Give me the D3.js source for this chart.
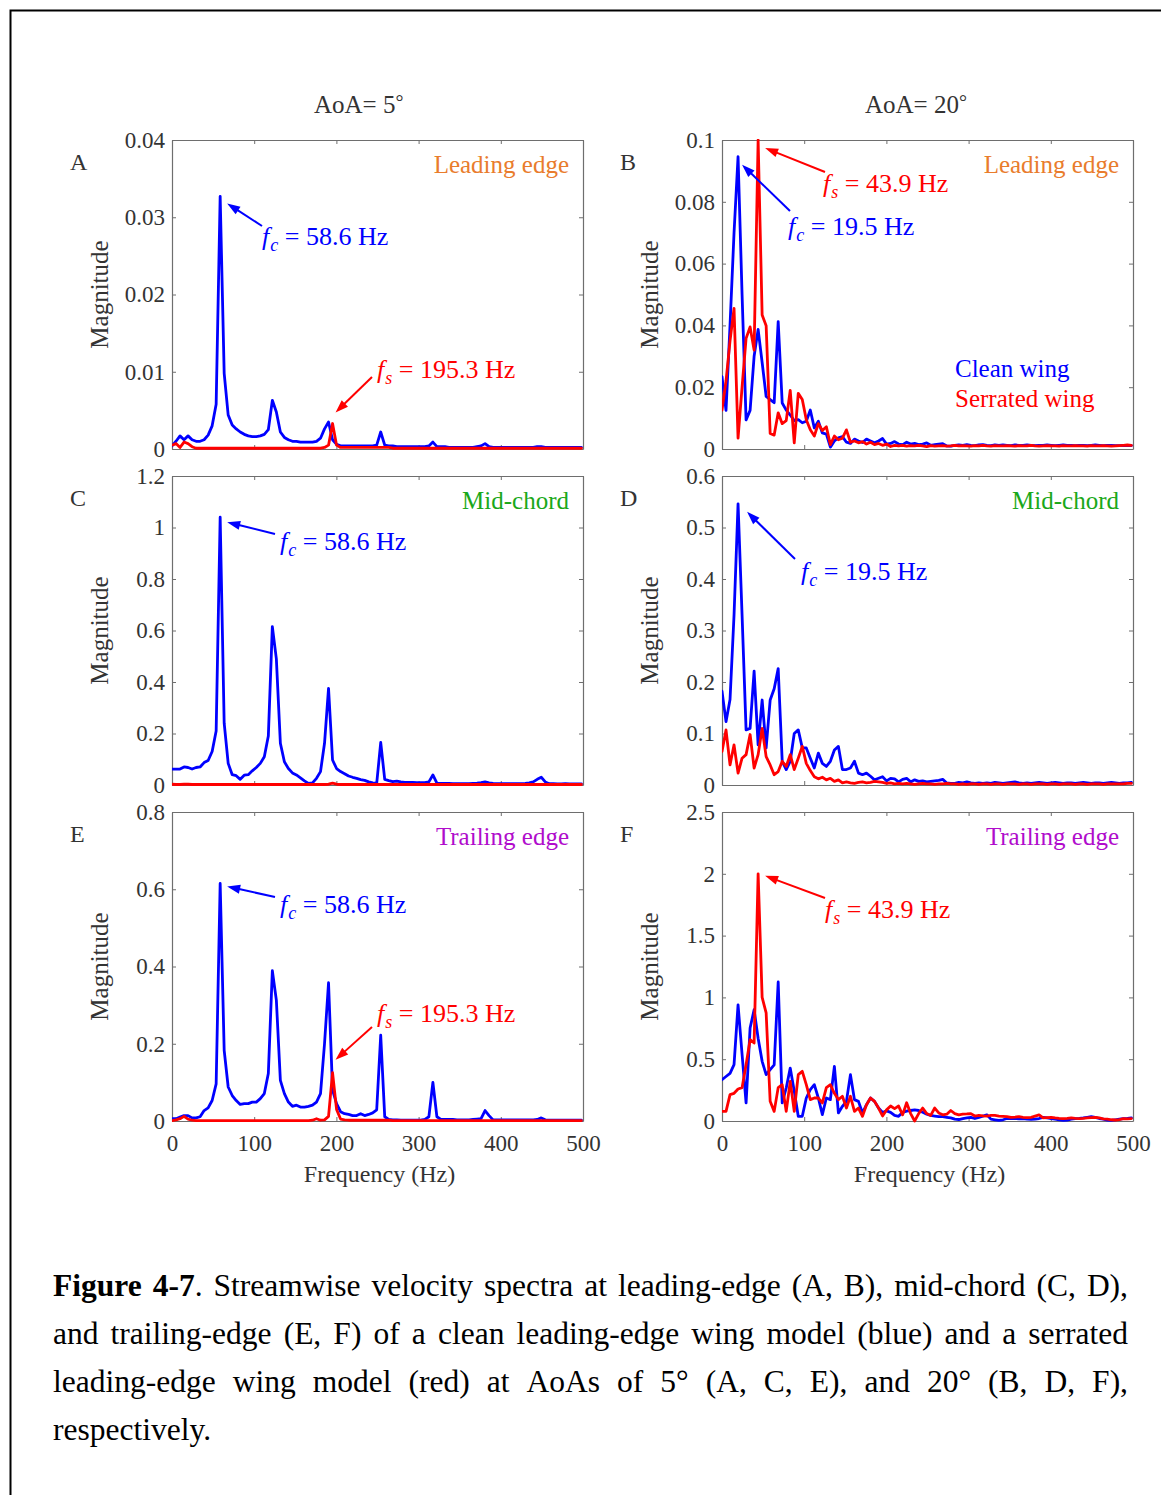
<!DOCTYPE html>
<html>
<head>
<meta charset="utf-8">
<script src="https://cdn.jsdelivr.net/npm/d3@7"></script>
<style>
  html, body { margin: 0; padding: 0; background: #fff; }
  svg { display: block; }
</style>
</head>
<body>
<svg id="fig" width="1161" height="1495"></svg>
<script>
// ---------------------------------------------------------------------------
// Spectrum bins: 1250 Hz sampling, 256-point FFT -> 4.883 Hz bin spacing,
// bins 0..102 cover 0-500 Hz.
// ---------------------------------------------------------------------------
const SAMPLE_RATE = 1250;
const N_FFT = 256;
const N_BINS = 103;
const freqs = d3.range(N_BINS).map(k => k * SAMPLE_RATE / N_FFT);

// Axis ticks
const xTicks = [0, 100, 200, 300, 400, 500];
const yTicksA = [0, 0.01, 0.02, 0.03, 0.04];
const yTicksB = [0, 0.02, 0.04, 0.06, 0.08, 0.1];
const yTicksC = [0, 0.2, 0.4, 0.6, 0.8, 1, 1.2];
const yTicksD = [0, 0.1, 0.2, 0.3, 0.4, 0.5, 0.6];
const yTicksE = [0, 0.2, 0.4, 0.6, 0.8];
const yTicksF = [0, 0.5, 1, 1.5, 2, 2.5];

// ---- AoA = 5 deg, leading edge (A) ----
const aoa5LeadingClean = [
  0.0004, 0.0010, 0.0017, 0.0012, 0.0017, 0.0012, 0.0010, 0.0010, 0.0012, 0.0018,
  0.0030, 0.0058, 0.0327, 0.0098, 0.0044, 0.0031, 0.0026, 0.0022, 0.0019, 0.0017,
  0.0016, 0.0016, 0.0017, 0.0019, 0.0025, 0.0063, 0.0048, 0.0022, 0.0015, 0.0012,
  0.0010, 0.0010, 0.0009, 0.0009, 0.0009, 0.0009, 0.0010, 0.0014, 0.0026, 0.0035,
  0.0012, 0.0006, 0.0004, 0.0004, 0.0004, 0.0004, 0.0004, 0.0004, 0.0004, 0.0004,
  0.0004, 0.0005, 0.0022, 0.0005, 0.0004, 0.0004, 0.0003, 0.0003, 0.0003, 0.0003,
  0.0003, 0.0003, 0.0003, 0.0003, 0.0004, 0.0009, 0.0003, 0.0003, 0.0003, 0.0002,
  0.0002, 0.0002, 0.0002, 0.0002, 0.0002, 0.0002, 0.0003, 0.0004, 0.0007, 0.0003,
  0.0002, 0.0002, 0.0002, 0.0002, 0.0002, 0.0002, 0.0002, 0.0002, 0.0002, 0.0002,
  0.0002, 0.0003, 0.0003, 0.0002, 0.0002, 0.0002, 0.0002, 0.0002, 0.0002, 0.0002,
  0.0002, 0.0002, 0.0002
];
const aoa5LeadingSerrated = [
  0.0005, 0.0007, 0.0002, 0.0009, 0.0007, 0.0003, 0.0001, 0.0001, 0.0001, 0.0001,
  0.0001, 0.0001, 0.0001, 0.0001, 0.0001, 0.0001, 0.0001, 0.0001, 0.0001, 0.0001,
  0.0001, 0.0001, 0.0001, 0.0001, 0.0001, 0.0001, 0.0001, 0.0001, 0.0001, 0.0001,
  0.0001, 0.0001, 0.0001, 0.0001, 0.0001, 0.0001, 0.0001, 0.0001, 0.0002, 0.0005,
  0.0033, 0.0005, 0.0002, 0.0002, 0.0002, 0.0002, 0.0002, 0.0002, 0.0002, 0.0002,
  0.0002, 0.0002, 0.0002, 0.0002, 0.0002, 0.0001, 0.0001, 0.0001, 0.0001, 0.0001,
  0.0001, 0.0001, 0.0001, 0.0001, 0.0001, 0.0001, 0.0001, 0.0001, 0.0001, 0.0001,
  0.0001, 0.0001, 0.0001, 0.0001, 0.0001, 0.0001, 0.0001, 0.0001, 0.0001, 0.0001,
  0.0001, 0.0001, 0.0001, 0.0001, 0.0001, 0.0001, 0.0001, 0.0001, 0.0001, 0.0001,
  0.0001, 0.0001, 0.0001, 0.0001, 0.0001, 0.0001, 0.0001, 0.0001, 0.0001, 0.0001,
  0.0001, 0.0001, 0.0001
];

// ---- AoA = 20 deg, leading edge (B) ----
const aoa20LeadingClean = [
  0.0234, 0.0125, 0.0400, 0.0700, 0.0946, 0.0500, 0.0094, 0.0125, 0.0300, 0.0387,
  0.0280, 0.0170, 0.0160, 0.0150, 0.0412, 0.0149, 0.0126, 0.0110, 0.0092, 0.0095,
  0.0085, 0.0090, 0.0126, 0.0068, 0.0090, 0.0052, 0.0048, 0.0006, 0.0026, 0.0036,
  0.0040, 0.0022, 0.0018, 0.0032, 0.0026, 0.0021, 0.0032, 0.0026, 0.0020, 0.0026,
  0.0034, 0.0016, 0.0018, 0.0024, 0.0016, 0.0014, 0.0022, 0.0016, 0.0018, 0.0014,
  0.0016, 0.0020, 0.0012, 0.0014, 0.0016, 0.0017, 0.0010, 0.0009, 0.0012, 0.0013,
  0.0012, 0.0014, 0.0012, 0.0011, 0.0013, 0.0014, 0.0012, 0.0011, 0.0013, 0.0012,
  0.0013, 0.0012, 0.0011, 0.0013, 0.0012, 0.0012, 0.0013, 0.0012, 0.0011, 0.0012,
  0.0012, 0.0013, 0.0012, 0.0011, 0.0012, 0.0013, 0.0012, 0.0012, 0.0011, 0.0012,
  0.0012, 0.0011, 0.0012, 0.0013, 0.0012, 0.0011, 0.0012, 0.0012, 0.0011, 0.0011,
  0.0012, 0.0011, 0.0011
];
const aoa20LeadingSerrated = [
  0.0126, 0.0220, 0.0350, 0.0455, 0.0035, 0.0200, 0.0358, 0.0395, 0.0320, 0.1000,
  0.0434, 0.0399, 0.0050, 0.0045, 0.0117, 0.0082, 0.0092, 0.0190, 0.0020, 0.0180,
  0.0160, 0.0095, 0.0062, 0.0042, 0.0082, 0.0060, 0.0072, 0.0014, 0.0042, 0.0030,
  0.0035, 0.0062, 0.0022, 0.0026, 0.0020, 0.0024, 0.0016, 0.0022, 0.0014, 0.0018,
  0.0012, 0.0016, 0.0008, 0.0012, 0.0010, 0.0012, 0.0009, 0.0011, 0.0010, 0.0012,
  0.0010, 0.0008, 0.0011, 0.0009, 0.0010, 0.0011, 0.0009, 0.0010, 0.0012, 0.0010,
  0.0011, 0.0010, 0.0009, 0.0011, 0.0010, 0.0012, 0.0010, 0.0009, 0.0011, 0.0010,
  0.0010, 0.0011, 0.0010, 0.0009, 0.0011, 0.0010, 0.0010, 0.0012, 0.0010, 0.0009,
  0.0010, 0.0011, 0.0010, 0.0010, 0.0009, 0.0011, 0.0010, 0.0010, 0.0011, 0.0010,
  0.0010, 0.0009, 0.0011, 0.0010, 0.0010, 0.0011, 0.0010, 0.0009, 0.0010, 0.0011,
  0.0012, 0.0013, 0.0012
];

// ---- AoA = 5 deg, mid-chord (C) ----
const aoa5MidClean = [
  0.062, 0.062, 0.062, 0.070, 0.068, 0.062, 0.068, 0.070, 0.087, 0.095,
  0.130, 0.210, 1.040, 0.240, 0.084, 0.040, 0.036, 0.022, 0.038, 0.040,
  0.055, 0.068, 0.084, 0.110, 0.190, 0.615, 0.490, 0.162, 0.090, 0.064,
  0.047, 0.039, 0.028, 0.016, 0.006, 0.008, 0.026, 0.052, 0.162, 0.375,
  0.097, 0.064, 0.052, 0.044, 0.035, 0.030, 0.026, 0.021, 0.018, 0.012,
  0.008, 0.006, 0.165, 0.022, 0.017, 0.013, 0.015, 0.012, 0.010, 0.010,
  0.010, 0.009, 0.009, 0.009, 0.012, 0.039, 0.007, 0.006, 0.006, 0.006,
  0.005, 0.005, 0.005, 0.005, 0.005, 0.006, 0.007, 0.009, 0.012, 0.008,
  0.006, 0.005, 0.005, 0.005, 0.005, 0.005, 0.005, 0.005, 0.006, 0.008,
  0.012, 0.022, 0.030, 0.012, 0.005, 0.005, 0.004, 0.004, 0.005, 0.004,
  0.004, 0.004, 0.004
];
const aoa5MidSerrated = [
  0.003, 0.002, 0.002, 0.003, 0.003, 0.002, 0.002, 0.002, 0.002, 0.002,
  0.002, 0.002, 0.002, 0.002, 0.002, 0.002, 0.002, 0.002, 0.002, 0.002,
  0.002, 0.002, 0.002, 0.002, 0.002, 0.002, 0.002, 0.002, 0.002, 0.002,
  0.002, 0.002, 0.002, 0.002, 0.002, 0.002, 0.002, 0.002, 0.002, 0.003,
  0.007, 0.003, 0.002, 0.002, 0.002, 0.002, 0.002, 0.002, 0.002, 0.002,
  0.002, 0.002, 0.002, 0.002, 0.002, 0.002, 0.002, 0.002, 0.002, 0.002,
  0.002, 0.002, 0.002, 0.002, 0.002, 0.002, 0.002, 0.002, 0.002, 0.002,
  0.002, 0.002, 0.002, 0.002, 0.002, 0.002, 0.002, 0.002, 0.002, 0.002,
  0.002, 0.002, 0.002, 0.002, 0.002, 0.002, 0.002, 0.002, 0.002, 0.002,
  0.002, 0.002, 0.002, 0.002, 0.002, 0.002, 0.002, 0.002, 0.002, 0.002,
  0.002, 0.002, 0.002
];

// ---- AoA = 20 deg, mid-chord (D) ----
const aoa20MidClean = [
  0.182, 0.123, 0.166, 0.330, 0.546, 0.330, 0.107, 0.110, 0.221, 0.078,
  0.165, 0.072, 0.165, 0.187, 0.226, 0.046, 0.030, 0.046, 0.100, 0.107,
  0.072, 0.072, 0.052, 0.033, 0.062, 0.042, 0.036, 0.046, 0.068, 0.075,
  0.030, 0.030, 0.033, 0.046, 0.023, 0.020, 0.023, 0.017, 0.010, 0.013,
  0.016, 0.008, 0.013, 0.012, 0.006, 0.011, 0.013, 0.006, 0.010, 0.007,
  0.008, 0.006, 0.007, 0.008, 0.009, 0.011, 0.004, 0.003, 0.003, 0.005,
  0.004, 0.006, 0.004, 0.003, 0.004, 0.003, 0.004, 0.003, 0.005, 0.004,
  0.003, 0.004, 0.005, 0.006, 0.004, 0.003, 0.004, 0.003, 0.004, 0.005,
  0.004, 0.003, 0.004, 0.005, 0.004, 0.003, 0.004, 0.004, 0.003, 0.004,
  0.005, 0.004, 0.003, 0.004, 0.004, 0.003, 0.004, 0.005, 0.004, 0.003,
  0.004, 0.004, 0.005
];
const aoa20MidSerrated = [
  0.065, 0.107, 0.039, 0.078, 0.023, 0.052, 0.059, 0.098, 0.033, 0.059,
  0.110, 0.055, 0.039, 0.020, 0.026, 0.046, 0.036, 0.059, 0.030, 0.052,
  0.075, 0.042, 0.028, 0.016, 0.012, 0.015, 0.010, 0.013, 0.007, 0.010,
  0.004, 0.006, 0.004, 0.003, 0.005, 0.006, 0.004, 0.005, 0.007, 0.006,
  0.005, 0.003, 0.004, 0.002, 0.003, 0.002, 0.003, 0.002, 0.001, 0.002,
  0.003, 0.002, 0.002, 0.001, 0.002, 0.002, 0.003, 0.002, 0.002, 0.001,
  0.002, 0.001, 0.002, 0.002, 0.001, 0.002, 0.002, 0.001, 0.002, 0.002,
  0.001, 0.002, 0.002, 0.002, 0.001, 0.002, 0.002, 0.001, 0.002, 0.002,
  0.002, 0.001, 0.002, 0.002, 0.001, 0.002, 0.002, 0.002, 0.001, 0.002,
  0.002, 0.001, 0.002, 0.002, 0.002, 0.001, 0.002, 0.002, 0.002, 0.002,
  0.002, 0.003, 0.003
];

// ---- AoA = 5 deg, trailing edge (E) ----
const aoa5TrailingClean = [
  0.006, 0.006, 0.010, 0.014, 0.014, 0.008, 0.008, 0.011, 0.027, 0.034,
  0.053, 0.096, 0.615, 0.183, 0.088, 0.066, 0.053, 0.043, 0.045, 0.045,
  0.049, 0.049, 0.058, 0.071, 0.123, 0.389, 0.313, 0.105, 0.071, 0.049,
  0.038, 0.041, 0.036, 0.036, 0.038, 0.041, 0.049, 0.071, 0.200, 0.358,
  0.080, 0.045, 0.024, 0.019, 0.017, 0.014, 0.014, 0.019, 0.014, 0.017,
  0.021, 0.029, 0.222, 0.011, 0.004, 0.003, 0.003, 0.002, 0.002, 0.002,
  0.002, 0.002, 0.002, 0.004, 0.011, 0.100, 0.011, 0.004, 0.004, 0.004,
  0.004, 0.003, 0.003, 0.003, 0.003, 0.004, 0.005, 0.006, 0.027, 0.014,
  0.003, 0.003, 0.003, 0.003, 0.003, 0.003, 0.003, 0.003, 0.003, 0.003,
  0.003, 0.004, 0.008, 0.003, 0.002, 0.002, 0.002, 0.002, 0.002, 0.002,
  0.002, 0.002, 0.002
];
const aoa5TrailingSerrated = [
  0.001, 0.003, 0.006, 0.012, 0.005, 0.002, 0.001, 0.001, 0.001, 0.001,
  0.001, 0.001, 0.001, 0.001, 0.001, 0.001, 0.001, 0.001, 0.001, 0.001,
  0.001, 0.001, 0.001, 0.001, 0.001, 0.001, 0.001, 0.001, 0.001, 0.001,
  0.001, 0.001, 0.001, 0.001, 0.001, 0.002, 0.006, 0.002, 0.003, 0.012,
  0.125, 0.030, 0.005, 0.003, 0.002, 0.002, 0.002, 0.002, 0.002, 0.002,
  0.002, 0.002, 0.002, 0.002, 0.002, 0.001, 0.001, 0.001, 0.001, 0.001,
  0.001, 0.001, 0.001, 0.001, 0.001, 0.001, 0.001, 0.001, 0.001, 0.001,
  0.001, 0.001, 0.001, 0.001, 0.001, 0.001, 0.001, 0.001, 0.001, 0.001,
  0.001, 0.001, 0.001, 0.001, 0.001, 0.001, 0.001, 0.001, 0.001, 0.001,
  0.001, 0.001, 0.001, 0.001, 0.001, 0.001, 0.001, 0.001, 0.001, 0.001,
  0.001, 0.001, 0.001
];

// ---- AoA = 20 deg, trailing edge (F) ----
const aoa20TrailingClean = [
  0.334, 0.360, 0.385, 0.456, 0.940, 0.540, 0.146, 0.752, 0.900, 0.670,
  0.483, 0.375, 0.415, 0.455, 1.125, 0.146, 0.267, 0.428, 0.240, 0.038,
  0.038, 0.186, 0.254, 0.294, 0.186, 0.051, 0.186, 0.173, 0.442, 0.065,
  0.119, 0.159, 0.375, 0.173, 0.159, 0.065, 0.132, 0.186, 0.159, 0.105,
  0.069, 0.082, 0.070, 0.045, 0.038, 0.070, 0.080, 0.085, 0.090, 0.085,
  0.070, 0.055, 0.045, 0.040, 0.035, 0.035, 0.030, 0.025, 0.015, 0.012,
  0.020, 0.025, 0.030, 0.020, 0.030, 0.040, 0.050, 0.015, 0.010, 0.005,
  0.010, 0.020, 0.022, 0.020, 0.018, 0.020, 0.015, 0.013, 0.015, 0.020,
  0.030, 0.025, 0.020, 0.015, 0.010, 0.005, 0.008, 0.015, 0.020, 0.022,
  0.025, 0.030, 0.035, 0.030, 0.020, 0.015, 0.008, 0.005, 0.010, 0.015,
  0.020, 0.022, 0.025
];
const aoa20TrailingSerrated = [
  0.078, 0.078, 0.213, 0.224, 0.259, 0.270, 0.456, 0.658, 0.631, 2.000,
  1.000, 0.874, 0.159, 0.078, 0.270, 0.294, 0.078, 0.321, 0.078, 0.375,
  0.402, 0.294, 0.173, 0.186, 0.186, 0.146, 0.270, 0.294, 0.224, 0.173,
  0.200, 0.105, 0.200, 0.078, 0.105, 0.038, 0.132, 0.186, 0.159, 0.105,
  0.041, 0.090, 0.121, 0.100, 0.121, 0.050, 0.148, 0.060, 0.000, 0.060,
  0.105, 0.060, 0.045, 0.105, 0.065, 0.050, 0.055, 0.085, 0.060, 0.050,
  0.055, 0.057, 0.060, 0.040, 0.045, 0.042, 0.040, 0.045, 0.045, 0.040,
  0.038, 0.035, 0.030, 0.032, 0.035, 0.030, 0.028, 0.030, 0.040, 0.050,
  0.025, 0.028, 0.030, 0.025, 0.022, 0.020, 0.022, 0.025, 0.022, 0.020,
  0.022, 0.025, 0.028, 0.030, 0.025, 0.018, 0.015, 0.010, 0.008, 0.012,
  0.020, 0.018, 0.020
];

// Caption text, one entry per printed line
const captionBold = 'Figure 4-7';
const captionLines = [
  'Figure 4-7. Streamwise velocity spectra at leading-edge (A, B), mid-chord (C, D),',
  'and trailing-edge (E, F) of a clean leading-edge wing model (blue) and a serrated',
  'leading-edge wing model (red) at AoAs of 5\u00B0 (A, C, E), and 20\u00B0 (B, D, F),',
  'respectively.'
];

// ---------------------------------------------------------------------------
// Styling and layout
// ---------------------------------------------------------------------------
const SERIF = '"Liberation Serif", "Times New Roman", Times, serif';
const BLUE = '#0000ff', RED = '#ff0000';
const ORANGE = '#e97c2c', GREEN = '#1aa81a', PURPLE = '#b00ccc';
const AXIS_GREY = '#6e6e6e', TEXT_GREY = '#333';

const COL_X = [172, 722];
const ROW_Y = [140, 476, 812];
const PW = 411, PH = 309;

const panels = [
  { letter: 'A', col: 0, row: 0, yMax: 0.04, yTicks: yTicksA,
    clean: aoa5LeadingClean, serrated: aoa5LeadingSerrated,
    region: 'Leading edge', regionColor: ORANGE, xLabels: false,
    notes: [
      { which: 'clean', sub: 'c', tip: [7, 7], tail: [90, 86], text: [90, 105] },
      { which: 'serrated', sub: 's', tip: [3, -11], tail: [200, 237], text: [205, 238] }
    ] },
  { letter: 'B', col: 1, row: 0, yMax: 0.1, yTicks: yTicksB,
    clean: aoa20LeadingClean, serrated: aoa20LeadingSerrated,
    region: 'Leading edge', regionColor: ORANGE, xLabels: false, legend: true,
    notes: [
      { which: 'serrated', sub: 's', tip: [7, 8], tail: [103, 32], text: [101, 52] },
      { which: 'clean', sub: 'c', tip: [4, 8], tail: [68, 71], text: [66, 95] }
    ] },
  { letter: 'C', col: 0, row: 1, yMax: 1.2, yTicks: yTicksC,
    clean: aoa5MidClean, serrated: aoa5MidSerrated,
    region: 'Mid-chord', regionColor: GREEN, xLabels: false,
    notes: [
      { which: 'clean', sub: 'c', tip: [7, 5], tail: [103, 58], text: [108, 74] }
    ] },
  { letter: 'D', col: 1, row: 1, yMax: 0.6, yTicks: yTicksD,
    clean: aoa20MidClean, serrated: aoa20MidSerrated,
    region: 'Mid-chord', regionColor: GREEN, xLabels: false,
    notes: [
      { which: 'clean', sub: 'c', tip: [9, 8], tail: [73, 83], text: [79, 104] }
    ] },
  { letter: 'E', col: 0, row: 2, yMax: 0.8, yTicks: yTicksE,
    clean: aoa5TrailingClean, serrated: aoa5TrailingSerrated,
    region: 'Trailing edge', regionColor: PURPLE, xLabels: true,
    notes: [
      { which: 'clean', sub: 'c', tip: [7, 3], tail: [103, 85], text: [108, 101] },
      { which: 'serrated', sub: 's', tip: [3, -13], tail: [200, 215], text: [205, 210] }
    ] },
  { letter: 'F', col: 1, row: 2, yMax: 2.5, yTicks: yTicksF,
    clean: aoa20TrailingClean, serrated: aoa20TrailingSerrated,
    region: 'Trailing edge', regionColor: PURPLE, xLabels: true,
    notes: [
      { which: 'serrated', sub: 's', tip: [7, 2], tail: [103, 86], text: [103, 106] }
    ] }
];

const svg = d3.select('#fig');
const defs = svg.append('defs');
const fmt = d => String(+d.toFixed(4));

// page frame
svg.append('path')
  .attr('d', 'M10.5,1495 V10.5 H1161')
  .attr('fill', 'none').attr('stroke', '#000').attr('stroke-width', 2);

// column titles
[['AoA= 5', 0], ['AoA= 20', 1]].forEach(([t, c]) => {
  const tx = svg.append('text')
    .attr('x', COL_X[c] + (c === 0 ? 142 : 143)).attr('y', 113)
    .attr('font-family', SERIF).attr('font-size', 25).attr('fill', TEXT_GREY)
    .text(t);
  tx.append('tspan').attr('font-size', 20).attr('dy', -4).text('\u00B0');
});

function setTextStyle(sel, size, color) {
  sel.attr('font-family', SERIF).attr('font-size', size).attr('fill', color);
}

panels.forEach((p, pi) => {
  const x0 = COL_X[p.col], top = ROW_Y[p.row];
  const x = d3.scaleLinear().domain([0, 500]).range([x0, x0 + PW]);
  const y = d3.scaleLinear().domain([0, p.yMax]).range([top + PH, top]);
  const g = svg.append('g');

  // axes on all four sides, ticks pointing inward
  const axes = [
    { ax: d3.axisBottom(x).tickValues(xTicks), tr: `translate(0,${top + PH})`, labels: p.xLabels, pad: 14 },
    { ax: d3.axisTop(x).tickValues(xTicks), tr: `translate(0,${top})`, labels: false, pad: 3 },
    { ax: d3.axisLeft(y).tickValues(p.yTicks), tr: `translate(${x0},0)`, labels: true, pad: 7 },
    { ax: d3.axisRight(y).tickValues(p.yTicks), tr: `translate(${x0 + PW},0)`, labels: false, pad: 3 }
  ];
  axes.forEach(a => {
    a.ax.tickSizeInner(-4).tickSizeOuter(0).tickPadding(a.pad)
      .tickFormat(a.labels ? fmt : () => '');
    const ag = g.append('g').attr('transform', a.tr).call(a.ax);
    ag.attr('color', AXIS_GREY).attr('font-family', SERIF).attr('font-size', 23);
    ag.selectAll('path.domain').attr('stroke-width', 1.2);
    ag.selectAll('.tick line').attr('stroke-width', 1);
    ag.selectAll('.tick text').attr('fill', TEXT_GREY);
  });

  // spectra, clipped to the axes box
  const clipId = 'clip' + pi;
  defs.append('clipPath').attr('id', clipId).append('rect')
    .attr('x', x0).attr('y', top - 1).attr('width', PW + 1).attr('height', PH + 3);
  const line = d3.line().x((d, i) => x(freqs[i])).y(d => y(d));
  const lg = g.append('g').attr('clip-path', `url(#${clipId})`);
  [[p.clean, BLUE], [p.serrated, RED]].forEach(([series, col]) => {
    lg.append('path').datum(series)
      .attr('d', line).attr('fill', 'none')
      .attr('stroke', col).attr('stroke-width', 2.8)
      .attr('stroke-linejoin', 'round').attr('stroke-linecap', 'round');
  });

  // panel letter
  setTextStyle(g.append('text').attr('x', x0 - 102).attr('y', top + 30).text(p.letter), 24, TEXT_GREY);

  // y-axis title
  setTextStyle(g.append('text')
    .attr('transform', `translate(${x0 - 64},${top + PH / 2}) rotate(-90)`)
    .attr('text-anchor', 'middle').text('Magnitude'), 25, TEXT_GREY);

  // x-axis title on the bottom row
  if (p.xLabels) {
    setTextStyle(g.append('text')
      .attr('x', x0 + PW / 2 + 2).attr('y', top + PH + 61)
      .attr('text-anchor', 'middle').text('Frequency (Hz)'), 24, TEXT_GREY);
  }

  // measurement-location label
  setTextStyle(g.append('text')
    .attr('x', x0 + 397).attr('y', top + 33)
    .attr('text-anchor', 'end').text(p.region), 25, p.regionColor);

  // legend
  if (p.legend) {
    setTextStyle(g.append('text').attr('x', x0 + 233).attr('y', top + 237).text('Clean wing'), 25, BLUE);
    setTextStyle(g.append('text').attr('x', x0 + 233).attr('y', top + 267).text('Serrated wing'), 25, RED);
  }

  // peak annotations: arrow from the label to the dominant peak
  p.notes.forEach(n => {
    const series = p[n.which];
    const col = n.which === 'clean' ? BLUE : RED;
    const k = d3.maxIndex(series);
    const tip = [x(freqs[k]) + n.tip[0], y(series[k]) + n.tip[1]];
    const tail = [x0 + n.tail[0], top + n.tail[1]];
    const dx = tip[0] - tail[0], dy = tip[1] - tail[1];
    const len = Math.hypot(dx, dy), ux = dx / len, uy = dy / len;
    const headL = 13, headW = 4.5;
    const base = [tip[0] - ux * headL, tip[1] - uy * headL];
    g.append('line')
      .attr('x1', tail[0]).attr('y1', tail[1])
      .attr('x2', base[0] + ux * 2).attr('y2', base[1] + uy * 2)
      .attr('stroke', col).attr('stroke-width', 2);
    g.append('path')
      .attr('d', `M${tip[0]},${tip[1]} L${base[0] - uy * headW},${base[1] + ux * headW} L${base[0] + uy * headW},${base[1] - ux * headW} Z`)
      .attr('fill', col);

    const t = g.append('text')
      .attr('x', x0 + n.text[0]).attr('y', top + n.text[1])
      .attr('font-family', SERIF).attr('font-size', 26).attr('fill', col);
    t.append('tspan').attr('font-style', 'italic').text('f');
    t.append('tspan').attr('font-style', 'italic').attr('font-size', 18).attr('dy', 6).attr('dx', 1).text(n.sub);
    t.append('tspan').attr('dy', -6).text(' = ' + freqs[k].toFixed(1) + ' Hz');
  });
});

// ---------------------------------------------------------------------------
// Caption, justified between the left and right margins
// ---------------------------------------------------------------------------
const CAP_LEFT = 53, CAP_RIGHT = 1128, CAP_Y0 = 1296, CAP_LH = 48, CAP_SIZE = 31.5;
captionLines.forEach((lineText, li) => {
  const words = lineText.split(' ');
  let pos = 0;
  const nodes = words.map(w => {
    const t = svg.append('text').attr('y', CAP_Y0 + li * CAP_LH)
      .attr('font-family', SERIF).attr('font-size', CAP_SIZE).attr('fill', '#000');
    // the figure number at the start of the caption is set in bold
    const boldLen = li === 0 ? Math.max(0, Math.min(w.length, captionBold.length - pos)) : 0;
    if (boldLen > 0) t.append('tspan').attr('font-weight', 'bold').text(w.slice(0, boldLen));
    if (boldLen < w.length) t.append('tspan').text(w.slice(boldLen));
    pos += w.length + 1;
    return t;
  });
  const widths = nodes.map(t => t.node().getComputedTextLength());
  const total = d3.sum(widths);
  const justify = li < captionLines.length - 1 && nodes.length > 1;
  const gap = justify ? (CAP_RIGHT - CAP_LEFT - total) / (nodes.length - 1) : CAP_SIZE * 0.25;
  let cx = CAP_LEFT;
  nodes.forEach((t, i) => { t.attr('x', cx); cx += widths[i] + gap; });
});
</script>
</body>
</html>
